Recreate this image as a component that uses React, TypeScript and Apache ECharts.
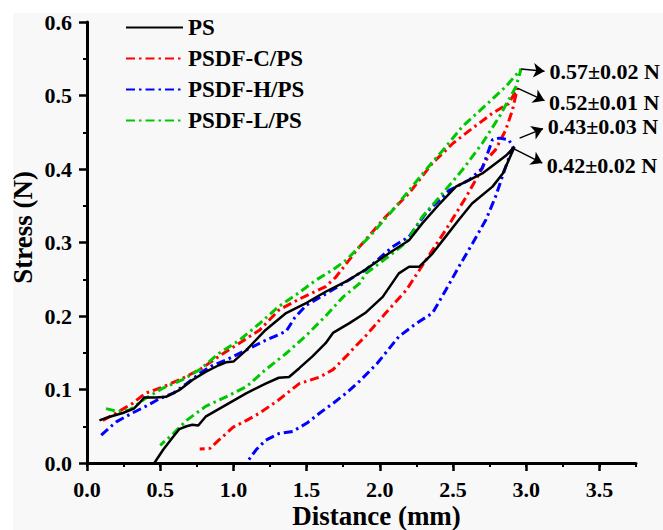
import React, { useEffect, useRef } from "react";
import * as echarts from "echarts";

const seriesNames = ["PS", "PSDF-C/PS", "PSDF-H/PS", "PSDF-L/PS"];
const seriesColors = ["#000000", "#ff0000", "#0000ff", "#00c800"];

// PS (black, solid): upper branch to the peak, then lower branch back down
const psCurve: [number, number][] = [
  [0.085, 0.058], [0.155, 0.063], [0.245, 0.068], [0.32, 0.074], [0.36, 0.082], [0.39, 0.089],
  [0.47, 0.089], [0.54, 0.09], [0.63, 0.099], [0.72, 0.113], [0.81, 0.124], [0.9, 0.133],
  [0.95, 0.137], [1.0, 0.138], [1.09, 0.154], [1.22, 0.181], [1.36, 0.204], [1.5, 0.218],
  [1.63, 0.233], [1.77, 0.247], [1.9, 0.263], [2.06, 0.285], [2.2, 0.303], [2.29, 0.326],
  [2.41, 0.353], [2.52, 0.376], [2.63, 0.387], [2.7, 0.394], [2.82, 0.412], [2.86, 0.418],
  [2.92, 0.43],
  [2.84, 0.394], [2.77, 0.376], [2.63, 0.353], [2.54, 0.331], [2.45, 0.308], [2.36, 0.285],
  [2.27, 0.267], [2.2, 0.267], [2.13, 0.258], [2.02, 0.226], [1.9, 0.204], [1.79, 0.19],
  [1.68, 0.177], [1.63, 0.163], [1.54, 0.145], [1.45, 0.129], [1.38, 0.117], [1.31, 0.116],
  [1.22, 0.108], [1.09, 0.095], [0.95, 0.079], [0.81, 0.063], [0.76, 0.051], [0.72, 0.052],
  [0.68, 0.05], [0.63, 0.046], [0.59, 0.036], [0.52, 0.018], [0.46, 0.0],
];

// PSDF-C/PS (red)
const cCurve: [number, number][] = [
  [0.108, 0.058], [0.2, 0.068], [0.31, 0.081], [0.4, 0.095], [0.5, 0.102], [0.63, 0.113],
  [0.77, 0.127], [0.9, 0.145], [1.04, 0.163], [1.18, 0.181], [1.31, 0.208], [1.45, 0.223],
  [1.63, 0.24], [1.7, 0.253], [1.79, 0.276], [1.86, 0.294], [2.04, 0.335], [2.2, 0.367],
  [2.36, 0.408], [2.5, 0.435], [2.63, 0.455], [2.77, 0.476], [2.88, 0.489], [2.94, 0.51],
  [2.906, 0.48], [2.86, 0.453], [2.79, 0.426], [2.725, 0.412], [2.68, 0.394], [2.59, 0.362],
  [2.45, 0.317], [2.315, 0.276], [2.18, 0.235], [2.04, 0.204], [1.9, 0.172], [1.83, 0.158],
  [1.77, 0.145], [1.68, 0.127], [1.59, 0.117], [1.45, 0.108], [1.31, 0.086], [1.18, 0.068],
  [1.09, 0.058], [1.0, 0.049], [0.9, 0.031], [0.84, 0.02], [0.77, 0.019],
];

// PSDF-H/PS (blue)
const hCurve: [number, number][] = [
  [0.097, 0.038], [0.2, 0.056], [0.31, 0.068], [0.4, 0.077], [0.5, 0.088], [0.59, 0.095],
  [0.68, 0.108], [0.77, 0.122], [0.86, 0.133], [0.95, 0.14], [1.09, 0.154], [1.22, 0.167],
  [1.36, 0.179], [1.42, 0.198], [1.5, 0.215], [1.63, 0.23], [1.75, 0.244], [1.86, 0.258],
  [1.906, 0.263], [2.087, 0.294], [2.2, 0.308], [2.315, 0.34], [2.474, 0.371], [2.61, 0.385],
  [2.7, 0.401], [2.77, 0.44], [2.816, 0.442], [2.88, 0.44], [2.91, 0.43],
  [2.86, 0.403], [2.79, 0.362], [2.725, 0.331], [2.634, 0.299], [2.54, 0.267], [2.45, 0.235],
  [2.36, 0.204], [2.25, 0.19], [2.13, 0.172], [2.065, 0.156], [1.98, 0.135], [1.86, 0.111],
  [1.77, 0.095], [1.68, 0.081], [1.59, 0.068], [1.5, 0.054], [1.405, 0.043], [1.31, 0.04],
  [1.22, 0.031], [1.155, 0.018], [1.1, 0.003],
];

// PSDF-L/PS (green)
const lCurve: [number, number][] = [
  [0.13, 0.074], [0.21, 0.07], [0.29, 0.072], [0.4, 0.088], [0.52, 0.102], [0.65, 0.113],
  [0.77, 0.127], [0.9, 0.149], [1.04, 0.167], [1.18, 0.19], [1.31, 0.213], [1.45, 0.232],
  [1.565, 0.249], [1.68, 0.263], [1.77, 0.276], [1.86, 0.294], [1.93, 0.308], [2.11, 0.349],
  [2.315, 0.399], [2.45, 0.43], [2.565, 0.458], [2.725, 0.487], [2.86, 0.512], [2.965, 0.536],
  [2.93, 0.512], [2.816, 0.471], [2.7, 0.435], [2.565, 0.399], [2.43, 0.367], [2.29, 0.335],
  [2.18, 0.3], [2.04, 0.278], [1.906, 0.258], [1.86, 0.244], [1.75, 0.226], [1.63, 0.2],
  [1.5, 0.174], [1.36, 0.149], [1.22, 0.127], [1.09, 0.104], [0.95, 0.09], [0.81, 0.077],
  [0.68, 0.058], [0.59, 0.04], [0.5, 0.024],
];

const curves = [psCurve, cCurve, hCurve, lCurve];

// Peak annotations (arrow from peak to label)
const peakLabels = ["0.57±0.02 N", "0.52±0.01 N", "0.43±0.03 N", "0.42±0.02 N"];
const arrowFrom: [number, number][] = [[2.965, 0.536], [2.94, 0.51], [2.955, 0.442], [2.91, 0.428]];
const arrowTo: [number, number][] = [[3.125, 0.533], [3.125, 0.493], [3.115, 0.455], [3.11, 0.408]];

const xMajorTicks = [0, 0.5, 1, 1.5, 2, 2.5, 3, 3.5];

const FONT = "'Liberation Serif', 'Times New Roman', serif";

export default function App() {
  const ref = useRef<HTMLDivElement>(null);

  useEffect(() => {
    if (!ref.current) return;
    const chart = echarts.init(ref.current, undefined, { renderer: "svg" });

    const series: any[] = seriesNames.map((name, i) => ({
      type: "line",
      name,
      data: curves[i],
      xAxisIndex: 0,
      yAxisIndex: 0,
      symbol: "none",
      showSymbol: false,
      clip: false,
      z: i === 0 ? 5 : 3,
      lineStyle: {
        color: seriesColors[i],
        width: i === 0 ? 2.5 : 3,
        type: i === 0 ? "solid" : [9, 4, 2.5, 4],
      },
      itemStyle: { color: seriesColors[i] },
    }));

    series[0].markLine = {
      silent: true,
      animation: false,
      symbol: ["none", "arrow"],
      symbolSize: 11,
      lineStyle: { color: "#000", width: 1.5, type: "solid" },
      label: {
        show: true,
        position: "end",
        formatter: "{b}",
        color: "#000",
        fontFamily: FONT,
        fontWeight: "bold",
        fontSize: 22,
        distance: 5,
      },
      data: arrowFrom.map((p, i) => [
        { coord: p, name: peakLabels[i] },
        { coord: arrowTo[i] },
      ]),
    };

    const axisText = { color: "#000", fontFamily: FONT, fontWeight: "bold" as const, fontSize: 22, lineHeight: 22 };

    chart.setOption({
      animation: false,
      backgroundColor: "#ffffff",
      graphic: [
        {
          type: "rect",
          left: 13,
          top: 13,
          shape: { width: 650, height: 517 },
          style: { fill: "#f8f8f8" },
          z: -10,
          silent: true,
        },
      ],
      grid: { left: 87, right: 27, top: 22, bottom: 67, outerBoundsMode: "none", containLabel: false },
      legend: {
        left: 120,
        top: 11,
        orient: "vertical",
        itemWidth: 57,
        itemHeight: 14,
        itemGap: 8,
        data: seriesNames,
        itemStyle: { opacity: 0 },
        textStyle: { color: "#000", fontFamily: FONT, fontWeight: "bold", fontSize: 23, lineHeight: 23 },
      },
      xAxis: [
        {
          type: "value",
          min: 0,
          max: 3.75,
          interval: 0.25,
          name: "Distance (mm)",
          nameLocation: "middle",
          nameGap: 39,
          nameMoveOverlap: false,
          nameTextStyle: {
            color: "#000",
            fontFamily: FONT,
            fontWeight: "bold",
            fontSize: 27,
            lineHeight: 27,
            padding: [0, 0, 0, 30],
          },
          axisLine: { show: true, lineStyle: { color: "#000", width: 3 } },
          axisTick: { show: true, inside: false, length: 4, lineStyle: { color: "#000", width: 2 } },
          axisLabel: {
            ...axisText,
            margin: 15,
            formatter: (v: number) => {
              const k = v / 0.5;
              return Math.abs(k - Math.round(k)) < 1e-6 ? v.toFixed(1) : "";
            },
          },
          splitLine: { show: false },
        },
        {
          type: "value",
          min: 0,
          max: 3.75,
          position: "bottom",
          axisLine: { show: false },
          axisTick: { show: true, inside: false, length: 8, customValues: xMajorTicks, lineStyle: { color: "#000", width: 2.5 } },
          axisLabel: { show: false },
          splitLine: { show: false },
        },
      ],
      yAxis: {
        type: "value",
        min: 0,
        max: 0.6,
        interval: 0.1,
        name: "Stress (N)",
        nameLocation: "middle",
        nameGap: 51,
        nameMoveOverlap: false,
        nameTextStyle: { color: "#000", fontFamily: FONT, fontWeight: "bold", fontSize: 27, padding: [0, 0, 0, 30] },
        axisLine: { show: true, lineStyle: { color: "#000", width: 3 } },
        axisTick: { show: true, inside: false, length: 8, lineStyle: { color: "#000", width: 2.5 } },
        minorTick: { show: true, splitNumber: 2, length: 4, lineStyle: { color: "#000", width: 2 } },
        axisLabel: { ...axisText, margin: 15, formatter: (v: number) => v.toFixed(1) },
        splitLine: { show: false },
      },
      series,
    });

    return () => chart.dispose();
  }, []);

  return (
    <div style={{ position: "fixed", left: 0, top: 0, width: 663, height: 530, background: "#fff" }}>
      <div ref={ref} style={{ width: 663, height: 530 }} />
    </div>
  );
}
